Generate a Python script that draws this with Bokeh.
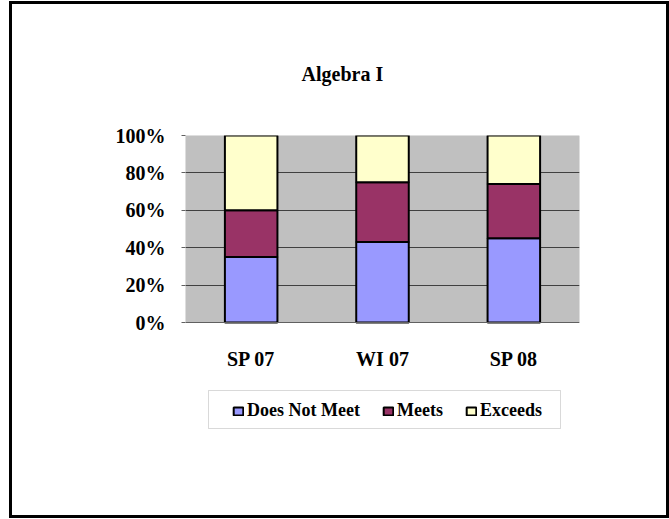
from bokeh.plotting import figure
from bokeh.models import (FactorRange, Range1d, Legend, LegendItem, BoxAnnotation,
                          NumeralTickFormatter, ColumnDataSource, FixedTicker)
from bokeh.embed import file_html
from bokeh.resources import INLINE

terms = ["SP 07", "WI 07", "SP 08"]
series = ["Does Not Meet", "Meets", "Exceeds"]
does_not_meet = [0.35, 0.43, 0.45]
meets = [0.25, 0.32, 0.29]
exceeds = [0.40, 0.25, 0.26]
colors = ["#9999FF", "#993366", "#FFFFCC"]
y_ticks = [0, 0.2, 0.4, 0.6, 0.8, 1.0]
title_text = "Algebra I"

FONT = "Liberation Serif"

# frame extends below the plot area so that the legend fits inside it
p = figure(x_range=FactorRange(factors=terms, range_padding=0),
           y_range=Range1d(-0.631, 1),
           frame_width=394, frame_height=305, output_backend="svg", toolbar_location=None,
           min_border_left=173, min_border_right=87, min_border_top=131,
           min_border_bottom=75, title=title_text)
p.styles = {"margin-left": "9px", "margin-top": "1px", "border": "3px solid black",
            "background-color": "white"}
p.background_fill_color = "white"
p.border_fill_color = "white"
p.outline_line_color = None

# grey plot area (0% .. 100%)
p.add_layout(BoxAnnotation(bottom=0, top=1, fill_color="#C0C0C0", fill_alpha=1,
                           line_color="#808080", line_width=1, level="image"))

p.title.align = "left"
p.title.offset = 116
p.title.standoff = 102
p.title.text_font = FONT
p.title.text_font_style = "bold"
p.title.text_font_size = "20px"
p.title.text_color = "black"

source = ColumnDataSource(dict(terms=terms, **{series[0]: does_not_meet,
                                               series[1]: meets,
                                               series[2]: exceeds}))
renderers = p.vbar_stack(series, x="terms", width=0.4, fill_color=colors,
                         line_color="black", line_width=2, source=source)

p.xgrid.visible = False
p.ygrid.ticker = FixedTicker(ticks=y_ticks[1:-1])
p.ygrid.grid_line_color = "#404040"
p.ygrid.grid_line_width = 1

p.yaxis.ticker = y_ticks
p.yaxis.formatter = NumeralTickFormatter(format="0%")
p.yaxis.major_label_text_font = FONT
p.yaxis.major_label_text_font_style = "bold"
p.yaxis.major_label_text_font_size = "20px"
p.yaxis.major_label_text_color = "black"
p.yaxis.major_tick_in = 0
p.yaxis.major_tick_out = 4
p.yaxis.major_tick_line_color = "#606060"
p.yaxis.minor_tick_line_color = None
p.yaxis.axis_line_color = None
p.yaxis.major_label_standoff = 16

p.xaxis.fixed_location = 0
p.xaxis.major_label_text_font = FONT
p.xaxis.major_label_text_font_style = "bold"
p.xaxis.major_label_text_font_size = "20px"
p.xaxis.major_label_text_color = "black"
p.xaxis.major_tick_line_color = None
p.xaxis.major_tick_in = 0
p.xaxis.major_tick_out = 0
p.xaxis.axis_line_color = "#606060"
p.xaxis.major_label_standoff = 25

legend = Legend(items=[LegendItem(label=s, renderers=[r]) for s, r in zip(series, renderers)],
                orientation="horizontal", location=(47, 19),
                glyph_width=12, glyph_height=10, label_standoff=3, spacing=22,
                padding=0, margin=0, border_line_color=None, background_fill_alpha=0,
                label_text_font=FONT, label_text_font_style="bold",
                label_text_font_size="18px", label_text_color="black")
p.add_layout(legend, "center")

# legend frame
p.add_layout(BoxAnnotation(left=193, right=545, top=383, bottom=421,
                           left_units="canvas", right_units="canvas",
                           top_units="canvas", bottom_units="canvas",
                           fill_color=None, line_color="#808080", line_width=1))

open("out.html", "w").write(file_html(p, INLINE))
